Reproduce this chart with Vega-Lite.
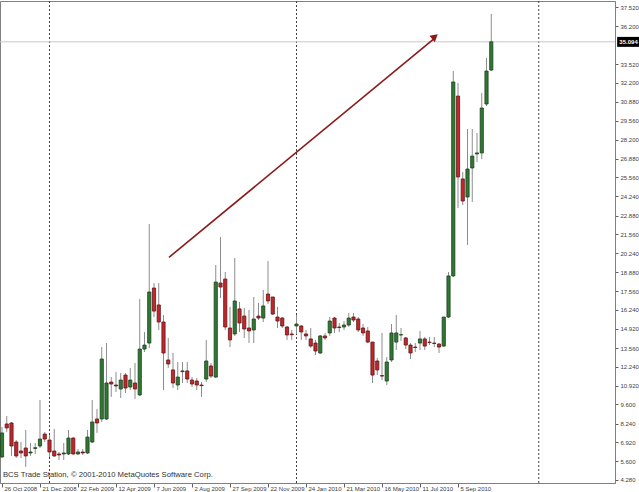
{
  "$schema": "https://vega.github.io/schema/vega-lite/v6.json",
  "autosize": {"type": "none"},
  "padding": {"left": 0, "top": 1, "right": 24, "bottom": 9},
  "width": 615,
  "height": 482,
  "background": "white",
  "config": {
    "view": {"stroke": "#808080", "strokeWidth": 1},
    "font": "Liberation Sans",
    "scale": {"continuousPadding": 0},
    "axis": {"labelFont": "Liberation Sans", "labelFontSize": 6, "labelColor": "#404040", "grid": false, "title": null, "domainColor": "#808080", "tickColor": "#606060", "labelOverlap": false, "labelBound": false, "labelFlush": false}
  },
  "datasets": {
    "bars": [
      {"n":0,"o":5.90,"h":8.01,"l":5.83,"c":7.59},
      {"n":1,"o":8.22,"h":8.78,"l":7.66,"c":7.94},
      {"n":2,"o":8.29,"h":8.36,"l":5.97,"c":6.67},
      {"n":3,"o":6.95,"h":7.09,"l":5.83,"c":5.97},
      {"n":4,"o":6.32,"h":6.95,"l":5.83,"c":6.18},
      {"n":5,"o":6.53,"h":7.80,"l":5.20,"c":5.97},
      {"n":6,"o":6.18,"h":6.88,"l":5.97,"c":6.25},
      {"n":7,"o":6.50,"h":6.88,"l":6.11,"c":6.55},
      {"n":8,"o":6.67,"h":9.91,"l":6.53,"c":7.16},
      {"n":9,"o":7.51,"h":7.66,"l":6.95,"c":7.16},
      {"n":10,"o":7.09,"h":7.44,"l":5.90,"c":6.25},
      {"n":11,"o":6.32,"h":7.87,"l":5.90,"c":5.97},
      {"n":12,"o":6.11,"h":6.25,"l":5.69,"c":6.04},
      {"n":13,"o":6.11,"h":6.88,"l":5.69,"c":6.18},
      {"n":14,"o":6.11,"h":7.80,"l":6.04,"c":7.23},
      {"n":15,"o":7.23,"h":7.30,"l":6.04,"c":6.11},
      {"n":16,"o":6.11,"h":6.46,"l":6.04,"c":6.25},
      {"n":17,"o":6.25,"h":6.46,"l":6.04,"c":6.18},
      {"n":18,"o":6.18,"h":7.80,"l":6.11,"c":7.30},
      {"n":19,"o":6.95,"h":9.91,"l":6.88,"c":8.36},
      {"n":20,"o":8.57,"h":9.27,"l":7.59,"c":8.29},
      {"n":21,"o":8.57,"h":13.63,"l":8.36,"c":12.79},
      {"n":22,"o":8.57,"h":13.91,"l":8.50,"c":11.10},
      {"n":23,"o":11.17,"h":11.52,"l":10.12,"c":11.03},
      {"n":24,"o":10.96,"h":11.87,"l":10.47,"c":10.89},
      {"n":25,"o":10.68,"h":11.80,"l":10.05,"c":11.31},
      {"n":26,"o":11.66,"h":11.80,"l":10.40,"c":10.75},
      {"n":27,"o":10.82,"h":12.16,"l":10.61,"c":11.31},
      {"n":28,"o":11.10,"h":12.51,"l":9.98,"c":10.68},
      {"n":29,"o":10.26,"h":17.01,"l":10.19,"c":13.49},
      {"n":30,"o":13.49,"h":14.69,"l":13.28,"c":13.77},
      {"n":31,"o":13.91,"h":22.28,"l":13.56,"c":17.50},
      {"n":32,"o":17.78,"h":18.13,"l":15.74,"c":16.16},
      {"n":33,"o":16.59,"h":18.13,"l":14.83,"c":15.39},
      {"n":34,"o":15.39,"h":15.88,"l":10.61,"c":13.21},
      {"n":35,"o":12.72,"h":14.27,"l":12.16,"c":12.44},
      {"n":36,"o":12.02,"h":13.21,"l":10.75,"c":11.10},
      {"n":37,"o":10.96,"h":12.58,"l":10.61,"c":11.52},
      {"n":38,"o":11.90,"h":12.58,"l":11.10,"c":11.95},
      {"n":39,"o":11.95,"h":12.58,"l":11.10,"c":11.38},
      {"n":40,"o":11.31,"h":11.52,"l":10.82,"c":11.03},
      {"n":41,"o":11.24,"h":11.45,"l":10.61,"c":10.96},
      {"n":42,"o":10.96,"h":11.17,"l":10.12,"c":10.92},
      {"n":43,"o":11.38,"h":14.13,"l":11.17,"c":12.65},
      {"n":44,"o":12.30,"h":12.51,"l":11.45,"c":11.59},
      {"n":45,"o":11.52,"h":19.40,"l":11.45,"c":18.20},
      {"n":46,"o":18.13,"h":21.37,"l":17.08,"c":17.85},
      {"n":47,"o":18.41,"h":18.91,"l":14.83,"c":15.04},
      {"n":48,"o":14.97,"h":16.45,"l":13.63,"c":14.13},
      {"n":49,"o":14.55,"h":19.89,"l":14.41,"c":16.87},
      {"n":50,"o":16.31,"h":16.80,"l":14.69,"c":15.32},
      {"n":51,"o":15.81,"h":16.38,"l":14.27,"c":14.90},
      {"n":52,"o":14.97,"h":16.24,"l":13.91,"c":14.76},
      {"n":53,"o":14.83,"h":17.15,"l":13.91,"c":15.60},
      {"n":54,"o":15.81,"h":16.73,"l":15.53,"c":15.67},
      {"n":55,"o":15.67,"h":17.64,"l":15.39,"c":16.52},
      {"n":56,"o":17.36,"h":19.68,"l":16.66,"c":16.87},
      {"n":57,"o":17.15,"h":17.15,"l":15.88,"c":15.95},
      {"n":58,"o":15.74,"h":16.45,"l":14.97,"c":15.46},
      {"n":59,"o":15.67,"h":15.74,"l":14.97,"c":15.11},
      {"n":60,"o":15.04,"h":15.11,"l":14.13,"c":14.48},
      {"n":61,"o":14.55,"h":14.83,"l":14.13,"c":14.50},
      {"n":62,"o":15.11,"h":15.88,"l":14.55,"c":15.25},
      {"n":63,"o":15.11,"h":15.18,"l":14.13,"c":14.69},
      {"n":64,"o":14.55,"h":14.83,"l":14.13,"c":14.41},
      {"n":65,"o":14.20,"h":14.97,"l":13.56,"c":13.70},
      {"n":66,"o":13.91,"h":14.13,"l":13.07,"c":13.35},
      {"n":67,"o":13.21,"h":14.48,"l":13.14,"c":14.41},
      {"n":68,"o":14.41,"h":14.62,"l":14.13,"c":14.27},
      {"n":69,"o":14.62,"h":15.74,"l":14.41,"c":15.46},
      {"n":70,"o":15.67,"h":15.74,"l":14.62,"c":14.97},
      {"n":71,"o":15.04,"h":15.32,"l":14.69,"c":15.00},
      {"n":72,"o":15.04,"h":15.46,"l":14.83,"c":15.18},
      {"n":73,"o":15.18,"h":16.02,"l":15.04,"c":15.67},
      {"n":74,"o":15.74,"h":16.02,"l":15.39,"c":15.53},
      {"n":75,"o":15.60,"h":15.74,"l":14.69,"c":14.83},
      {"n":76,"o":14.97,"h":15.25,"l":14.41,"c":14.62},
      {"n":77,"o":14.76,"h":15.04,"l":13.91,"c":13.98},
      {"n":78,"o":13.98,"h":13.98,"l":11.10,"c":11.66},
      {"n":79,"o":12.65,"h":12.86,"l":11.66,"c":12.02},
      {"n":80,"o":11.62,"h":14.62,"l":11.31,"c":11.59},
      {"n":81,"o":11.24,"h":12.93,"l":10.96,"c":12.58},
      {"n":82,"o":12.72,"h":15.25,"l":12.58,"c":14.62},
      {"n":83,"o":13.98,"h":15.88,"l":13.42,"c":14.62},
      {"n":84,"o":14.48,"h":14.97,"l":14.06,"c":14.50},
      {"n":85,"o":14.27,"h":14.34,"l":13.49,"c":13.77},
      {"n":86,"o":13.77,"h":13.91,"l":12.79,"c":13.21},
      {"n":87,"o":13.63,"h":13.91,"l":13.28,"c":13.60},
      {"n":88,"o":13.91,"h":14.76,"l":13.42,"c":14.20},
      {"n":89,"o":14.20,"h":14.34,"l":13.42,"c":13.70},
      {"n":90,"o":13.98,"h":14.34,"l":13.77,"c":13.95},
      {"n":91,"o":13.91,"h":14.34,"l":13.63,"c":13.88},
      {"n":92,"o":13.84,"h":13.91,"l":13.21,"c":13.63},
      {"n":93,"o":13.70,"h":15.74,"l":13.63,"c":15.74},
      {"n":94,"o":15.74,"h":18.91,"l":15.67,"c":18.63},
      {"n":95,"o":18.63,"h":33.04,"l":18.56,"c":32.27},
      {"n":96,"o":31.28,"h":32.20,"l":23.41,"c":25.59},
      {"n":97,"o":25.45,"h":25.94,"l":23.62,"c":23.90},
      {"n":98,"o":24.18,"h":28.96,"l":20.81,"c":26.15},
      {"n":99,"o":26.22,"h":28.96,"l":23.83,"c":27.06},
      {"n":100,"o":27.21,"h":28.68,"l":26.64,"c":27.28},
      {"n":101,"o":27.28,"h":31.50,"l":26.85,"c":30.44},
      {"n":102,"o":30.72,"h":33.96,"l":30.58,"c":33.04},
      {"n":103,"o":33.11,"h":37.05,"l":33.04,"c":35.094}
    ],
    "separators": [{"n": 10}, {"n": 62}, {"n": 113}],
    "arrow": [{"x1": 35.16, "y1": 19.94, "x2": 91.3, "y2": 35.4, "tx": 91.14, "ty": 35.46}],
    "note": [{"n": 0.2, "p": 4.6, "label": "BCS Trade Station, © 2001-2010 MetaQuotes Software Corp."}],
    "last": [{"n1": 129.5, "n2": 134.3, "nm": 131.9, "p": 35.094, "p1": 35.44, "p2": 34.74, "label": "35.094"}]
  },
  "layer": [
    {
      "data": {"name": "separators"},
      "mark": {"type": "rule", "color": "#404040", "strokeDash": [2, 2], "strokeWidth": 1},
      "encoding": {
        "x": {
          "field": "n", "type": "quantitative",
          "scale": {"domain": [-0.42, 129.05], "nice": false, "zero": false, "padding": 0},
          "axis": {
            "orient": "bottom",
            "values": [0, 8, 16, 24, 32, 40, 48, 56, 64, 72, 80, 88, 96],
            "tickCount": 40,
            "labelExpr": "['26 Oct 2008','21 Dec 2008','22 Feb 2009','12 Apr 2009','7 Jun 2009','2 Aug 2009','27 Sep 2009','22 Nov 2009','24 Jan 2010','21 Mar 2010','16 May 2010','11 Jul 2010','5 Sep 2010'][round(datum.value/8)]",
            "labelAlign": "left", "labelBaseline": "top", "labelOffset": 2,
            "tickSize": 4, "labelPadding": -2, "labelFlush": false, "labelOverlap": false
          }
        }
      }
    },
    {
      "data": {"name": "last"},
      "mark": {"type": "rule", "color": "#c8c8c8", "strokeWidth": 1},
      "encoding": {
        "y": {
          "field": "p", "type": "quantitative",
          "scale": {"domain": [4.069, 37.965], "nice": false, "zero": false, "padding": 0},
          "axis": {
            "orient": "right",
            "values": [4.28, 5.6, 6.92, 8.24, 9.6, 10.92, 12.24, 13.56, 14.92, 16.24, 17.56, 18.88, 20.24, 21.56, 22.88, 24.24, 25.56, 26.88, 28.2, 29.56, 30.88, 32.2, 33.52, 36.2, 37.52],
            "tickCount": 60,
            "format": ".3f", "tickSize": 3, "labelPadding": 2, "labelBaseline": "middle", "labelOverlap": false, "labelFlush": false
          }
        }
      }
    },
    {
      "data": {"name": "bars"},
      "mark": {"type": "rule", "color": "#8c8c8c", "strokeWidth": 1},
      "encoding": {
        "x": {"field": "n", "type": "quantitative"},
        "y": {"field": "l", "type": "quantitative"},
        "y2": {"field": "h"}
      }
    },
    {
      "data": {"name": "bars"},
      "mark": {"type": "bar", "width": 3.2, "strokeWidth": 0.8},
      "encoding": {
        "x": {"field": "n", "type": "quantitative"},
        "y": {"field": "o", "type": "quantitative"},
        "y2": {"field": "c"},
        "fill": {"condition": {"test": "datum.c >= datum.o", "value": "#2f7a33"}, "value": "#c3272b"},
        "stroke": {"condition": {"test": "datum.c >= datum.o", "value": "#1c3f1d"}, "value": "#5e1517"}
      }
    },
    {
      "data": {"name": "arrow"},
      "mark": {"type": "rule", "color": "#8b1a1a", "strokeWidth": 1.6},
      "encoding": {
        "x": {"field": "x1", "type": "quantitative"},
        "y": {"field": "y1", "type": "quantitative"},
        "x2": {"field": "x2"},
        "y2": {"field": "y2"}
      }
    },
    {
      "data": {"name": "arrow"},
      "mark": {"type": "point", "shape": "triangle-up", "filled": true, "color": "#8b1a1a", "size": 70, "angle": 50.5, "opacity": 1},
      "encoding": {
        "x": {"field": "tx", "type": "quantitative"},
        "y": {"field": "ty", "type": "quantitative"}
      }
    },
    {
      "data": {"name": "note"},
      "mark": {"type": "text", "align": "left", "baseline": "middle", "fontSize": 7.7, "font": "Liberation Sans", "color": "#303030"},
      "encoding": {
        "x": {"field": "n", "type": "quantitative"},
        "y": {"field": "p", "type": "quantitative"},
        "text": {"field": "label"}
      }
    },
    {
      "data": {"name": "last"},
      "mark": {"type": "rect", "color": "#000000"},
      "encoding": {
        "x": {"field": "n1", "type": "quantitative"},
        "x2": {"field": "n2"},
        "y": {"field": "p1", "type": "quantitative"},
        "y2": {"field": "p2"}
      }
    },
    {
      "data": {"name": "last"},
      "mark": {"type": "text", "align": "center", "baseline": "middle", "fontSize": 6, "fontWeight": "bold", "font": "Liberation Sans", "color": "#ffffff"},
      "encoding": {
        "x": {"field": "nm", "type": "quantitative"},
        "y": {"field": "p", "type": "quantitative"},
        "text": {"field": "label"}
      }
    }
  ]
}
